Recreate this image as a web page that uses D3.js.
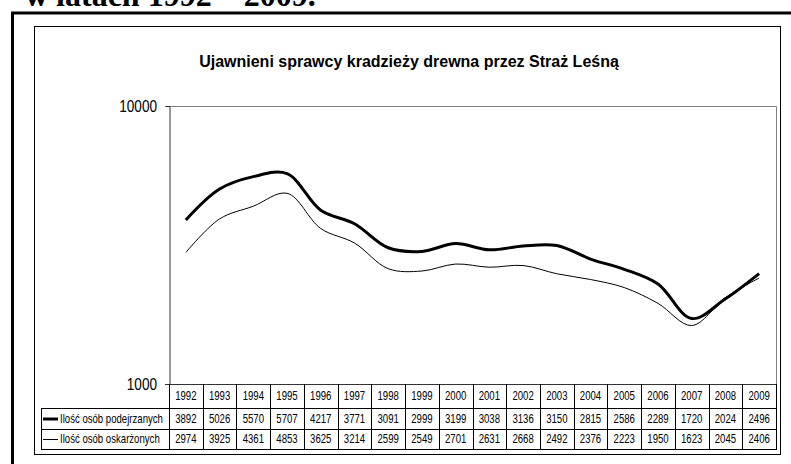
<!DOCTYPE html>
<html>
<head>
<meta charset="utf-8">
<script src="https://cdn.jsdelivr.net/npm/d3@7"></script>
<style>
  body { margin: 0; background: #fff; }
  svg { display: block; }
  .narrow { font-family: "Liberation Sans Narrow", "Arial Narrow", "Liberation Sans", Arial, sans-serif; }
</style>
</head>
<body>
<svg id="chart" width="791" height="464"></svg>
<script>
var years = ["1992","1993","1994","1995","1996","1997","1998","1999","2000","2001","2002","2003","2004","2005","2006","2007","2008","2009"];
var podejrzani = [3892,5026,5570,5707,4217,3771,3091,2999,3199,3038,3136,3150,2815,2586,2289,1720,2024,2496];
var oskarzeni = [2974,3925,4361,4853,3625,3214,2599,2549,2701,2631,2668,2492,2376,2223,1950,1623,2045,2406];
var seriesNames = ["Ilość osób podejrzanych", "Ilość osób oskarżonych"];
var yTicks = [1000, 10000];

var svg = d3.select("#chart");
var squeeze = 0.8;

// narrow text: drawn at origin, then moved and squeezed horizontally
function narrowText(parent, tx, ty, anchor, size, str) {
  return parent.append("g")
    .attr("transform", `translate(${tx},${ty}) scale(${squeeze},1)`)
    .append("text")
    .attr("class", "narrow")
    .attr("text-anchor", anchor)
    .style("font-size", size)
    .text(str);
}

// heading of the page, cut off at the top
svg.append("text")
  .attr("x", 25).attr("y", 6)
  .style("font-family", "'Liberation Serif', 'Times New Roman', serif")
  .style("font-weight", "bold")
  .style("font-size", "32px")
  .text("w latach 1992 – 2009.");

// outer thick frame
svg.append("path")
  .attr("d", "M12.5,480 L12.5,13 L800,13")
  .attr("fill", "none").attr("stroke", "#000").attr("stroke-width", 3);

// chart area frame
svg.append("rect")
  .attr("x", 34.5).attr("y", 26.5).attr("width", 746).attr("height", 428)
  .attr("fill", "#fff").attr("stroke", "#000").attr("stroke-width", 1);

svg.append("text")
  .attr("x", 409).attr("y", 67)
  .attr("text-anchor", "middle")
  .style("font-family", "'Liberation Sans', Arial, sans-serif")
  .style("font-weight", "bold")
  .style("font-size", "16px")
  .text("Ujawnieni sprawcy kradzieży drewna przez Straż Leśną");

var plotLeft = 169, plotRight = 776, plotTop = 106, plotBottom = 384;

var x = d3.scaleBand().domain(years).range([plotLeft, plotRight]);
var y = d3.scaleLog().domain([1000, 10000]).range([plotBottom, plotTop]);

// plot area border
svg.append("path")
  .attr("d", `M${plotLeft},${plotTop + 0.5} L${plotRight + 0.5},${plotTop + 0.5} L${plotRight + 0.5},${plotBottom}`)
  .attr("fill", "none").attr("stroke", "#808080").attr("stroke-width", 1);

// y axis (labels drawn separately in a narrow face)
var yAxis = svg.append("g")
  .attr("transform", `translate(${plotLeft + 0.5},0)`)
  .call(d3.axisLeft(y).tickValues(yTicks).tickFormat("").tickSize(4));
yAxis.select(".domain").attr("stroke", "#333");
yAxis.selectAll(".tick line").attr("stroke", "#333");
yTicks.forEach(function (t) {
  narrowText(svg, 157, y(t) + 6, "end", "17px", d3.format("d")(t));
});

// lines
var line = d3.line()
  .x(function (d, i) { return x(years[i]) + x.bandwidth() / 2; })
  .y(function (d) { return y(d); })
  .curve(d3.curveCatmullRom.alpha(0.5));

svg.append("path").datum(oskarzeni)
  .attr("d", line).attr("fill", "none").attr("stroke", "#000").attr("stroke-width", 1);
svg.append("path").datum(podejrzani)
  .attr("d", line).attr("fill", "none").attr("stroke", "#000").attr("stroke-width", 3);

// data table
var rowY = [plotBottom, 408, 429, 449];
var tableLeft = 41;
var grid = svg.append("g").attr("stroke", "#000").attr("stroke-width", 1).attr("fill", "none");

grid.append("line").attr("x1", plotLeft - 4).attr("x2", plotRight + 1)
  .attr("y1", plotBottom + 0.5).attr("y2", plotBottom + 0.5).attr("stroke", "#333");
[rowY[1], rowY[2], rowY[3]].forEach(function (ry) {
  grid.append("line").attr("x1", tableLeft).attr("x2", plotRight + 1)
    .attr("y1", ry + 0.5).attr("y2", ry + 0.5);
});
years.forEach(function (yr) {
  var xx = Math.round(x(yr)) + 0.5;
  grid.append("line").attr("x1", xx).attr("x2", xx).attr("y1", plotBottom).attr("y2", rowY[3]);
});
grid.append("line").attr("x1", plotRight + 0.5).attr("x2", plotRight + 0.5).attr("y1", plotBottom).attr("y2", rowY[3]);
grid.append("line").attr("x1", tableLeft + 0.5).attr("x2", tableLeft + 0.5).attr("y1", rowY[1]).attr("y2", rowY[3]);

var textSize = "12px";
var tableText = svg.append("g");
years.forEach(function (yr) {
  narrowText(tableText, x(yr) + x.bandwidth() / 2, (rowY[0] + rowY[1]) / 2 + 4, "middle", textSize, yr);
});

[podejrzani, oskarzeni].forEach(function (vals, r) {
  var cy = (rowY[r + 1] + rowY[r + 2]) / 2;
  vals.forEach(function (v, i) {
    narrowText(tableText, x(years[i]) + x.bandwidth() / 2, cy + 4, "middle", textSize, v);
  });
  svg.append("line")
    .attr("x1", 43).attr("x2", 58)
    .attr("y1", cy + 0.5).attr("y2", cy + 0.5)
    .attr("stroke", "#000").attr("stroke-width", r === 0 ? 3 : 1);
  narrowText(tableText, 60, cy + 4, "start", textSize, seriesNames[r]);
});
</script>
</body>
</html>
